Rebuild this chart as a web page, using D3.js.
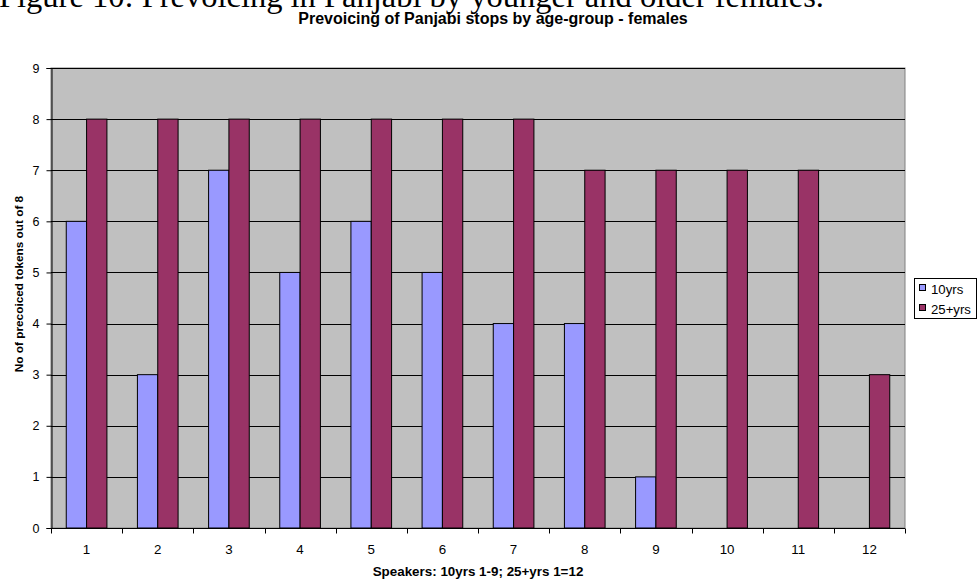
<!DOCTYPE html>
<html>
<head>
<meta charset="utf-8">
<script src="https://cdn.jsdelivr.net/npm/d3@7"></script>
<style>
  html, body { margin: 0; padding: 0; background: #fff; }
  svg { display: block; }
</style>
</head>
<body>
<svg id="chart" width="977" height="579"></svg>
<script>
// Speakers (x categories) and prevoiced token counts per age group
const speakers = ["1", "2", "3", "4", "5", "6", "7", "8", "9", "10", "11", "12"];
const youngValues = [6, 3, 7, 5, 6, 5, 4, 4, 1, null, null, null];
const olderValues = [8, 8, 8, 8, 8, 8, 8, 7, 7, 7, 7, 3];
const seriesNames = ["10yrs", "25+yrs"];
const seriesColors = ["#9999FF", "#993366"];
const yTicks = [0, 1, 2, 3, 4, 5, 6, 7, 8, 9];

const sans = "Liberation Sans, Arial, sans-serif";
const svg = d3.select("#chart");
const plot = { left: 51, right: 905, top: 68, bottom: 528 };

// Page heading above the chart
svg.append("text")
  .attr("x", -1).attr("y", 7)
  .attr("font-family", "Liberation Serif, Times New Roman, serif")
  .attr("font-size", 32.5)
  .attr("fill", "#000")
  .text("Figure 10: Prevoicing in Panjabi by younger and older females.");

// Chart title
svg.append("text")
  .attr("x", 493).attr("y", 24)
  .attr("text-anchor", "middle")
  .attr("font-family", sans)
  .attr("font-weight", "bold")
  .attr("font-size", 16)
  .text("Prevoicing of Panjabi stops by age-group - females");

const x = d3.scaleBand().domain(speakers).range([plot.left, plot.right]);
const y = d3.scaleLinear().domain([0, 9]).range([plot.bottom, plot.top]);

// Plot background
svg.append("rect")
  .attr("x", plot.left).attr("y", plot.top)
  .attr("width", plot.right - plot.left).attr("height", plot.bottom - plot.top)
  .attr("fill", "#C0C0C0")
  .attr("stroke", "#808080").attr("stroke-width", 1);

// Horizontal gridlines
svg.append("g")
  .selectAll("line")
  .data(yTicks.filter(d => d > 0))
  .join("line")
  .attr("x1", plot.left).attr("x2", plot.right)
  .attr("y1", d => Math.round(y(d)) + 0.5).attr("y2", d => Math.round(y(d)) + 0.5)
  .attr("stroke", "#000").attr("stroke-width", 1);

// Bars: each category holds two bars with a 150% gap width
const barW = x.bandwidth() / 3.5;
const rows = speakers.map((s, i) => [
  { s, k: 0, v: youngValues[i] },
  { s, k: 1, v: olderValues[i] }
]).flat().filter(d => d.v !== null && d.v > 0);

svg.append("g")
  .selectAll("rect")
  .data(rows)
  .join("rect")
  .attr("x", d => x(d.s) + barW * 0.75 + d.k * barW)
  .attr("y", d => y(d.v))
  .attr("width", barW)
  .attr("height", d => y(0) - y(d.v))
  .attr("fill", d => seriesColors[d.k])
  .attr("stroke", "#000").attr("stroke-width", 1);

// Y axis
const yAxis = svg.append("g")
  .attr("transform", `translate(${plot.left + 0.5},0)`)
  .call(d3.axisLeft(y).tickValues(yTicks).tickSize(5).tickPadding(7).tickFormat(d3.format("d")));
yAxis.selectAll("text")
  .attr("font-family", sans)
  .attr("font-size", 12.5).attr("fill", "#000");
yAxis.select(".domain").attr("stroke", "#000");
yAxis.selectAll(".tick line").attr("stroke", "#000");

// X axis with ticks at category boundaries
const xAxis = svg.append("g")
  .attr("transform", `translate(0,${plot.bottom + 0.5})`);
xAxis.append("line")
  .attr("x1", plot.left).attr("x2", plot.right)
  .attr("stroke", "#000");
const bounds = speakers.map(s => x(s)).concat([plot.right]);
xAxis.selectAll("line.tk")
  .data(bounds)
  .join("line").attr("class", "tk")
  .attr("x1", d => Math.round(d) + 0.5).attr("x2", d => Math.round(d) + 0.5)
  .attr("y1", 0).attr("y2", 5)
  .attr("stroke", "#000");
xAxis.selectAll("text")
  .data(speakers)
  .join("text")
  .attr("x", d => x(d) + x.bandwidth() / 2)
  .attr("y", 25)
  .attr("text-anchor", "middle")
  .attr("font-family", sans)
  .attr("font-size", 13.33)
  .text(d => d);

// Axis titles
svg.append("text")
  .attr("x", 478).attr("y", 576)
  .attr("text-anchor", "middle")
  .attr("font-family", sans)
  .attr("font-weight", "bold").attr("font-size", 13.4)
  .text("Speakers: 10yrs 1-9; 25+yrs 1=12");

svg.append("text")
  .attr("transform", `translate(22.5,284) rotate(-90)`)
  .attr("text-anchor", "middle")
  .attr("font-family", sans)
  .attr("font-weight", "bold").attr("font-size", 11.8)
  .text("No of precoiced tokens out of 8");

// Legend
const legend = svg.append("g");
legend.append("rect")
  .attr("x", 914.5).attr("y", 278.5)
  .attr("width", 62).attr("height", 40)
  .attr("fill", "#fff").attr("stroke", "#000");
seriesNames.forEach((name, i) => {
  legend.append("rect")
    .attr("x", 919.5).attr("y", 284.5 + i * 20)
    .attr("width", 6).attr("height", 6)
    .attr("fill", seriesColors[i]).attr("stroke", "#000");
  legend.append("text")
    .attr("x", 931).attr("y", 293.5 + i * 20)
    .attr("font-family", sans)
    .attr("font-size", 13.2)
    .text(name);
});
</script>
</body>
</html>
